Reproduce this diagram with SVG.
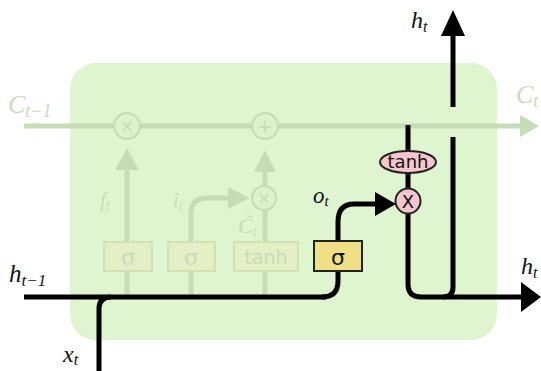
<svg xmlns="http://www.w3.org/2000/svg" width="541" height="371" viewBox="0 0 541 371">
<defs>
<style>
.faded{stroke:#c6dcb6;stroke-width:5;fill:none}
.fadedfill{fill:#c6dcb6}
.bold{stroke:#000;stroke-width:5;fill:none}
.math{font-family:"Liberation Serif",serif;font-style:italic}
.sans{font-family:"DejaVu Sans","Liberation Sans",sans-serif}
.flab{fill:#c9dcb9}
.fbox{fill:#e4efc6;stroke:#d3e0b2;stroke-width:2}
.fcirc{fill:#dcf2cc;stroke:#c6dcb6;stroke-width:2}
</style>
</defs>
<rect width="541" height="371" fill="#fff"/>
<g id="cell">
<rect x="70" y="63" width="427" height="277" rx="26" fill="#dff5cf"/>
</g>
<g id="connectors">
<line x1="24" y1="126" x2="522" y2="126" class="faded"/>
<polygon points="520,115 539,126 520,137" class="fadedfill"/>
<line x1="127" y1="297" x2="127" y2="168" class="faded"/>
<polygon points="115,170 127,148 139,170" class="fadedfill"/>
<line x1="191" y1="297" x2="191" y2="242" class="faded"/>
<path d="M191,242 V214 Q191,198 207,198 H232" class="faded"/>
<polygon points="228,187 250,198 228,209" class="fadedfill"/>
<line x1="265" y1="297" x2="265" y2="210" class="faded"/>
<line x1="265" y1="186" x2="265" y2="168" class="faded"/>
<polygon points="254,172 265,150 276,172" class="fadedfill"/>
<line x1="24" y1="297" x2="326" y2="297" class="bold"/>
<path d="M99,371 V309 Q99,297 111,297" class="bold"/>
<path d="M322,297 Q338,297 338,281 V222 Q338,204 354,204 H378" class="bold"/>
<polygon points="375,192 396,204 375,216" fill="#000"/>
<line x1="408" y1="125" x2="408" y2="152" class="bold"/>
<path d="M408,172 V284 Q408,297 421,297 H524" class="bold"/>
<polygon points="521,282 541,297 521,312" fill="#000"/>
<path d="M453,137 V287 Q453,297 443,297" class="bold"/>
<line x1="453" y1="107" x2="453" y2="32" class="bold"/>
<polygon points="441,36 453,10 465,36" fill="#000"/>
</g>
<g id="mul-f">
<circle cx="127" cy="126" r="13" class="fcirc"/>
<text x="127" y="132" text-anchor="middle" class="sans flab" font-size="17">×</text>
</g>
<g id="add-c">
<circle cx="265" cy="126" r="13" class="fcirc"/>
<text x="265" y="133" text-anchor="middle" class="sans flab" font-size="19">+</text>
</g>
<g id="mul-i">
<circle cx="264" cy="198" r="12" class="fcirc"/>
<text x="264" y="204" text-anchor="middle" class="sans flab" font-size="17">×</text>
</g>
<g id="sigma-f">
<rect x="104" y="242" width="48" height="29" class="fbox"/>
<text x="128" y="265" text-anchor="middle" class="sans flab" font-size="22">σ</text>
</g>
<g id="sigma-i">
<rect x="168" y="242" width="47" height="29" class="fbox"/>
<text x="191" y="265" text-anchor="middle" class="sans flab" font-size="22">σ</text>
</g>
<g id="tanh-c">
<rect x="234" y="242" width="64" height="29" class="fbox"/>
<text x="266" y="264" text-anchor="middle" class="sans flab" font-size="19">tanh</text>
</g>
<g id="sigma-o">
<rect x="314" y="241" width="48" height="30" fill="#efdf85" stroke="#222" stroke-width="2"/>
<text x="338" y="265" text-anchor="middle" class="sans" font-size="22" fill="#111">σ</text>
</g>
<g id="tanh-h">
<ellipse cx="408" cy="162" rx="28" ry="11" fill="#f5c6cd" stroke="#222" stroke-width="2"/>
<text x="408" y="168" text-anchor="middle" class="sans" font-size="18" fill="#111">tanh</text>
</g>
<g id="mul-o">
<circle cx="408" cy="201" r="12.5" fill="#f5c6cd" stroke="#222" stroke-width="2"/>
<text x="408" y="208" text-anchor="middle" class="sans" font-size="18" fill="#111">X</text>
</g>
<g id="labels">
<text x="8" y="113" class="math flab" font-size="26">C<tspan font-size="18" dy="4">t−1</tspan></text>
<text x="516" y="103" class="math flab" font-size="26">C<tspan font-size="18" dy="4">t</tspan></text>
<text x="100" y="207" class="math flab" font-size="21">f<tspan font-size="14" dy="3">t</tspan></text>
<text x="173" y="207" class="math flab" font-size="21">i<tspan font-size="14" dy="3">t</tspan></text>
<text x="238" y="233" class="math flab" font-size="22">C̃<tspan font-size="14" dy="3">t</tspan></text>
<text x="313" y="203" class="math" font-size="23" fill="#111">o<tspan font-size="15" dy="3">t</tspan></text>
<text x="411" y="28" class="math" font-size="24" fill="#111">h<tspan font-size="16" dy="4">t</tspan></text>
<text x="521" y="274" class="math" font-size="24" fill="#111">h<tspan font-size="16" dy="4">t</tspan></text>
<text x="9" y="282" class="math" font-size="25" fill="#111">h<tspan font-size="17" dy="4">t−1</tspan></text>
<text x="63" y="362" class="math" font-size="24" fill="#111">x<tspan font-size="16" dy="3">t</tspan></text>
</g>
</svg>
